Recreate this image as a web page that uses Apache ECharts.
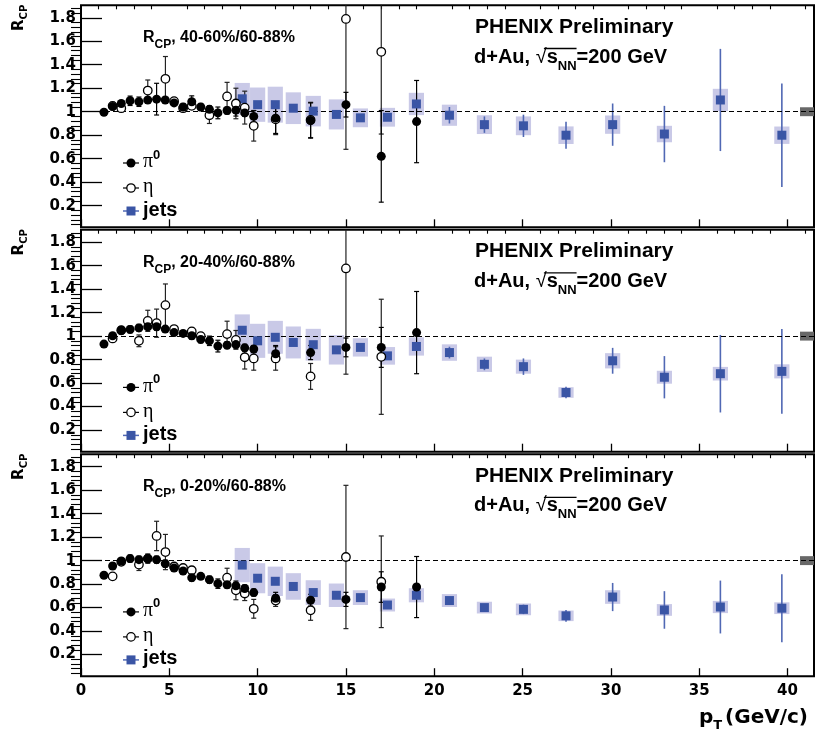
<!DOCTYPE html>
<html>
<head>
<meta charset="utf-8">
<script src="https://cdn.jsdelivr.net/npm/echarts@6/dist/echarts.min.js"></script>
<style>html,body{margin:0;padding:0;background:#fff}#c{width:817px;height:737px}</style>
</head>
<body>
<div id="c"></div>
<script>
// ---------------- data ----------------
const centralityLabels = ['40-60%/60-88%', '20-40%/60-88%', '0-20%/60-88%'];

const xTickValues = [0, 5, 10, 15, 20, 25, 30, 35, 40];
const yTickValues = [0.2, 0.4, 0.6, 0.8, 1.0, 1.2, 1.4, 1.6, 1.8];

const pi0Pt = [1.30,1.79,2.28,2.78,3.28,3.78,4.28,4.77,5.27,5.78,6.27,6.78,7.27,7.75,8.27,8.77,9.27,9.78,11.02,13.0,15.0,17.0,19.0];
const pi0R_4060 = [0.995,1.045,1.07,1.093,1.085,1.10,1.107,1.10,1.075,1.04,1.085,1.04,1.02,0.99,1.01,1.013,0.99,0.96,0.945,0.925,1.06,0.62,0.916];
const pi0E_4060 = [0.01,0.03,0.02,0.04,0.04,0.02,0.135,0.02,0.02,0.03,0.05,0.03,0.03,0.05,0.03,0.05,0.03,0.05,0.13,0.15,0.105,0.39,0.35];
const pi0R_2040 = [0.932,1.003,1.05,1.057,1.07,1.08,1.08,1.06,1.03,1.023,1.003,0.972,0.96,0.915,0.923,0.928,0.90,0.89,0.85,0.86,0.904,0.904,1.03];
const pi0E_2040 = [0.01,0.02,0.03,0.03,0.03,0.02,0.03,0.02,0.02,0.02,0.03,0.03,0.04,0.05,0.03,0.03,0.03,0.03,0.07,0.06,0.08,0.17,0.35];
const pi0R_0020 = [0.875,0.954,0.997,1.017,1.008,1.017,1.008,0.974,0.937,0.912,0.855,0.866,0.838,0.804,0.795,0.785,0.763,0.728,0.68,0.663,0.67,0.775,0.775];
const pi0E_0020 = [0.01,0.02,0.02,0.03,0.03,0.03,0.03,0.03,0.02,0.02,0.03,0.02,0.03,0.04,0.03,0.03,0.03,0.03,0.05,0.05,0.06,0.13,0.26];

const etaPt_4060 = [1.79,2.28,3.78,4.78,5.27,5.78,6.27,7.27,8.27,8.77,9.27,9.78,11.02,13.0,15.0,17.0];
const etaR_4060  = [1.05,1.03,1.18,1.28,1.09,1.03,1.05,0.97,1.13,1.07,1.035,0.88,0.935,0.93,1.79,1.51];
const etaE_4060  = [0.03,0.03,0.09,0.19,0.03,0.03,0.03,0.07,0.12,0.13,0.14,0.13,0.13,0.15,1.11,0.70];
const etaPt_2040 = [1.79,2.28,3.28,3.78,4.28,4.78,5.27,6.27,6.78,8.27,8.77,9.27,9.78,11.02,13.0,15.0,17.0];
const etaR_2040  = [0.98,1.05,0.96,1.13,1.11,1.264,1.06,1.04,1.0,1.017,0.968,0.82,0.81,0.81,0.657,1.576,0.824];
const etaE_2040  = [0.02,0.03,0.05,0.09,0.12,0.18,0.02,0.03,0.03,0.11,0.08,0.10,0.10,0.10,0.11,0.90,0.49];
const etaPt_0020 = [1.79,2.28,3.28,3.78,4.28,4.78,5.27,5.78,6.27,8.27,8.77,9.27,9.78,11.02,13.0,15.0,17.0];
const etaR_0020  = [0.866,0.99,0.966,1.017,1.21,1.073,0.95,0.937,0.918,0.855,0.747,0.72,0.59,0.66,0.577,1.031,0.82];
const etaE_0020  = [0.02,0.02,0.05,0.04,0.125,0.15,0.02,0.02,0.03,0.08,0.08,0.06,0.08,0.05,0.085,0.61,0.39];

const jetPt = [9.13,10.0,11.0,12.02,13.15,14.46,15.82,17.35,18.99,20.86,22.84,25.05,27.46,30.1,33.03,36.2,39.68];
const jetR_4060    = [1.11,1.06,1.06,1.03,1.005,0.977,0.948,0.953,1.066,0.97,0.89,0.88,0.80,0.89,0.81,1.10,0.80];
const jetStat_4060 = [0.02,0.02,0.02,0.02,0.02,0.02,0.02,0.02,0.03,0.07,0.07,0.095,0.115,0.18,0.24,0.435,0.44];
const jetSys_4060  = [0.135,0.146,0.153,0.135,0.13,0.128,0.08,0.08,0.095,0.09,0.08,0.08,0.075,0.078,0.07,0.095,0.074];
const jetR_2040    = [1.05,0.96,0.99,0.946,0.927,0.883,0.904,0.832,0.912,0.86,0.76,0.74,0.52,0.79,0.65,0.68,0.70];
const jetStat_2040 = [0.02,0.02,0.02,0.02,0.02,0.02,0.02,0.02,0.03,0.05,0.05,0.07,0.05,0.11,0.18,0.33,0.36];
const jetSys_2040  = [0.135,0.145,0.14,0.136,0.135,0.125,0.078,0.075,0.078,0.07,0.065,0.06,0.045,0.065,0.055,0.058,0.06];
const jetR_0020    = [0.962,0.85,0.824,0.78,0.728,0.705,0.685,0.622,0.705,0.66,0.60,0.585,0.53,0.69,0.58,0.605,0.595];
const jetStat_0020 = [0.02,0.02,0.02,0.02,0.02,0.02,0.02,0.02,0.02,0.03,0.03,0.04,0.05,0.12,0.16,0.225,0.29];
const jetSys_0020  = [0.146,0.128,0.125,0.113,0.105,0.1,0.063,0.055,0.06,0.055,0.05,0.05,0.045,0.058,0.05,0.052,0.05];

const normUnc = [0.038, 0.038, 0.038];

// ---------------- layout / style ----------------
const X_MIN = 0, X_MAX = 41.5, Y_MIN = 0.016, Y_MAX = 1.906;
const GRID_LEFT = 81, GRID_RIGHT = 3, PANEL_H = 222;
const PANEL_TOPS = [5.3, 229.7, 454.2];
const SYS_HALF_W = 0.43;
const SYS_COLOR = '#c9c9e7';
const JET_COLOR = '#3a55a5';
const JET_ERR_COLOR = '#5068b4';
const NORM_COLOR = '#686868';
const NORM_W_PX = 14;

const panels = [
  {pi0R: pi0R_4060, pi0E: pi0E_4060, etaPt: etaPt_4060, etaR: etaR_4060, etaE: etaE_4060, jetR: jetR_4060, jetStat: jetStat_4060, jetSys: jetSys_4060},
  {pi0R: pi0R_2040, pi0E: pi0E_2040, etaPt: etaPt_2040, etaR: etaR_2040, etaE: etaE_2040, jetR: jetR_2040, jetStat: jetStat_2040, jetSys: jetSys_2040},
  {pi0R: pi0R_0020, pi0E: pi0E_0020, etaPt: etaPt_0020, etaR: etaR_0020, etaE: etaE_0020, jetR: jetR_0020, jetStat: jetStat_0020, jetSys: jetSys_0020}
];

const xMinorValues = [];
for (let v = 1; v <= 41; v++) if (v % 5 !== 0) xMinorValues.push(v);
const yMinorValues = [];
for (let k = 1; k <= 47; k++) { if (k % 5 !== 0) yMinorValues.push(+(k * 0.04).toFixed(2)); }

// ---------------- render helpers ----------------
function sysBoxRender(params, api) {
  const x = api.value(0), y = api.value(1), s = api.value(2);
  const a = api.coord([x - SYS_HALF_W, y + s]);
  const b = api.coord([x + SYS_HALF_W, y - s]);
  return {type: 'rect', shape: {x: a[0], y: a[1], width: b[0] - a[0], height: b[1] - a[1]}, style: {fill: SYS_COLOR}};
}
function makeErrRender(capHalf, color, width) {
  return function (params, api) {
    const cs = params.coordSys;
    const x = api.value(0), y = api.value(1), e = api.value(2);
    const top = api.coord([x, y + e]);
    const bot = api.coord([x, y - e]);
    const yTop = Math.max(top[1], cs.y);
    const yBot = Math.min(bot[1], cs.y + cs.height);
    const px = top[0];
    const children = [{type: 'line', shape: {x1: px, y1: yTop, x2: px, y2: yBot}, style: {stroke: color, lineWidth: width}}];
    if (capHalf > 0) {
      if (top[1] >= cs.y) children.push({type: 'line', shape: {x1: px - capHalf, y1: top[1], x2: px + capHalf, y2: top[1]}, style: {stroke: color, lineWidth: width}});
      if (bot[1] <= cs.y + cs.height) children.push({type: 'line', shape: {x1: px - capHalf, y1: bot[1], x2: px + capHalf, y2: bot[1]}, style: {stroke: color, lineWidth: width}});
    }
    return {type: 'group', children: children};
  };
}
function normBoxRender(params, api) {
  const cs = params.coordSys;
  const c = api.value(0), u = api.value(1);
  const a = api.coord([X_MAX, c + u]);
  const b = api.coord([X_MAX, c - u]);
  return {type: 'rect', shape: {x: cs.x + cs.width - NORM_W_PX, y: a[1], width: NORM_W_PX, height: b[1] - a[1]}, style: {fill: NORM_COLOR}};
}

const mctx = document.createElement('canvas').getContext('2d');
function tw(text, font) { mctx.font = font; return mctx.measureText(text).width; }
function textRun(parts, x, y) {
  const els = [];
  let cx = x;
  parts.forEach(function (p) {
    const font = (p.w || 'bold') + ' ' + p.s + 'px ' + (p.f || '"Liberation Sans"');
    cx += (p.gap || 0);
    els.push({type: 'text', x: cx, y: y + (p.dy || 0), style: {text: p.t, font: font, fill: '#000', align: 'left', verticalAlign: 'middle'}});
    p._x = cx; p._w = tw(p.t, font);
    cx += p._w;
  });
  return {els: els, width: cx - x, parts: parts};
}

// ---------------- build option ----------------
const grids = [], xAxes = [], yAxes = [], series = [], graphics = [];
const tickFont = {fontFamily: 'DejaVu Sans', fontWeight: 'bold', fontSize: 15, color: '#000'};

panels.forEach(function (P, p) {
  grids.push({left: GRID_LEFT, right: GRID_RIGHT, top: PANEL_TOPS[p], height: PANEL_H, show: true, borderColor: '#000', borderWidth: 2, backgroundColor: 'transparent'});
  xAxes.push({type: 'value', gridIndex: p, min: X_MIN, max: X_MAX, axisLine: {show: false}, splitLine: {show: false},
    axisTick: {show: true, inside: true, length: 8, customValues: xTickValues, lineStyle: {color: '#000', width: 1.3}},
    axisLabel: {show: p === 2, customValues: xTickValues, margin: 7, ...tickFont, formatter: function (v) { return String(v); }}});
  xAxes.push({type: 'value', gridIndex: p, min: X_MIN, max: X_MAX, axisLine: {show: false}, splitLine: {show: false},
    axisTick: {show: true, inside: true, length: 4, customValues: xMinorValues, lineStyle: {color: '#000', width: 1.1}},
    axisLabel: {show: false}});
  yAxes.push({type: 'value', gridIndex: p, min: Y_MIN, max: Y_MAX, axisLine: {show: false}, splitLine: {show: false},
    axisTick: {show: true, inside: true, length: 21, customValues: yTickValues, lineStyle: {color: '#000', width: 1.3}},
    axisLabel: {show: true, customValues: yTickValues, margin: 5, ...tickFont, formatter: function (v) { return String(+v.toFixed(1)); }}});
  yAxes.push({type: 'value', gridIndex: p, min: Y_MIN, max: Y_MAX, axisLine: {show: false}, splitLine: {show: false},
    axisTick: {show: true, inside: true, length: 10, customValues: yMinorValues, lineStyle: {color: '#000', width: 1.1}},
    axisLabel: {show: false}});

  const xi = 2 * p, yi = 2 * p;
  // dashed reference line at R = 1
  series.push({type: 'scatter', xAxisIndex: xi, yAxisIndex: yi, data: [], z: 1, silent: true,
    markLine: {silent: true, symbol: ['none', 'none'], label: {show: false}, animation: false,
      lineStyle: {color: '#000', type: [5, 3], width: 1.1, opacity: 1}, data: [{yAxis: 1}]}});
  // jet systematic boxes
  series.push({type: 'custom', xAxisIndex: xi, yAxisIndex: yi, z: 2, silent: true, renderItem: sysBoxRender,
    encode: {x: 0, y: 1}, data: jetPt.map(function (x, i) { return [x, P.jetR[i], P.jetSys[i]]; })});
  // normalization uncertainty box
  series.push({type: 'custom', xAxisIndex: xi, yAxisIndex: yi, z: 3, silent: true, renderItem: normBoxRender,
    encode: {y: 0}, data: [[1, normUnc[p]]]});
  // error bars
  series.push({type: 'custom', xAxisIndex: xi, yAxisIndex: yi, z: 4, silent: true, renderItem: makeErrRender(0, JET_ERR_COLOR, 1.6),
    encode: {x: 0, y: 1}, data: jetPt.map(function (x, i) { return [x, P.jetR[i], P.jetStat[i]]; })});
  series.push({type: 'custom', xAxisIndex: xi, yAxisIndex: yi, z: 4, silent: true, renderItem: makeErrRender(2.5, '#222', 1.2),
    encode: {x: 0, y: 1}, data: P.etaPt.map(function (x, i) { return [x, P.etaR[i], P.etaE[i]]; })});
  series.push({type: 'custom', xAxisIndex: xi, yAxisIndex: yi, z: 4, silent: true, renderItem: makeErrRender(2.5, '#000', 1.2),
    encode: {x: 0, y: 1}, data: pi0Pt.map(function (x, i) { return [x, P.pi0R[i], P.pi0E[i]]; })});
  // markers
  series.push({type: 'scatter', name: 'jets', xAxisIndex: xi, yAxisIndex: yi, z: 5, symbol: 'rect', symbolSize: 9,
    itemStyle: {color: JET_COLOR, opacity: 1}, data: jetPt.map(function (x, i) { return [x, P.jetR[i]]; })});
  series.push({type: 'scatter', name: 'eta', xAxisIndex: xi, yAxisIndex: yi, z: 6, symbol: 'circle', symbolSize: 8.5,
    itemStyle: {color: '#fff', borderColor: '#000', borderWidth: 1.3, opacity: 1}, data: P.etaPt.map(function (x, i) { return [x, P.etaR[i]]; })});
  series.push({type: 'scatter', name: 'pi0', xAxisIndex: xi, yAxisIndex: yi, z: 7, symbol: 'circle', symbolSize: 9,
    itemStyle: {color: '#000', opacity: 1}, data: pi0Pt.map(function (x, i) { return [x, P.pi0R[i]]; })});

  // ---- annotations ----
  const dy = PANEL_TOPS[p] - PANEL_TOPS[0];
  // y-axis title (rotated)
  const yt = textRun([{t: 'R', s: 15, f: '"DejaVu Sans"'}, {t: 'CP', s: 10, f: '"DejaVu Sans"', dy: 5}], 0, 0);
  graphics.push({type: 'group', x: 19, y: 31 + dy, rotation: Math.PI / 2, children: yt.els});
  // R_CP label
  textRun([{t: 'R', s: 16}, {t: 'CP', s: 12, dy: 7}, {t: ', ' + centralityLabels[p], s: 16}], 143, 38 + dy).els.forEach(function (e) { graphics.push(e); });
  // PHENIX Preliminary
  textRun([{t: 'PHENIX Preliminary', s: 21}], 475, 27 + dy).els.forEach(function (e) { graphics.push(e); });
  // d+Au line with sqrt
  const sq = textRun([{t: 'd+Au, ', s: 20}, {t: '\u221A', s: 20, w: 'normal'}, {t: 's', s: 20}, {t: 'NN', s: 13, dy: 9}, {t: '=200 GeV', s: 20}], 474, 57 + dy);
  sq.els.forEach(function (e) { graphics.push(e); });
  const rad = sq.parts[1], nn = sq.parts[3];
  graphics.push({type: 'line', shape: {x1: rad._x + rad._w * 0.75, y1: 48.5 + dy, x2: nn._x + nn._w, y2: 48.5 + dy}, style: {stroke: '#000', lineWidth: 1.3}});
  // legend
  const lx0 = 123, lx1 = 139, mx = 131, tx = 143;
  const ly = [163 + dy, 188 + dy, 211 + dy];
  graphics.push({type: 'line', shape: {x1: lx0, y1: ly[0], x2: lx1, y2: ly[0]}, style: {stroke: '#000', lineWidth: 1.2}});
  graphics.push({type: 'circle', shape: {cx: mx, cy: ly[0], r: 4.5}, style: {fill: '#000'}});
  textRun([{t: '\u03C0', s: 20, w: 'normal', f: '"Liberation Serif"'}, {t: '0', s: 13, dy: -7}], tx, ly[0] - 1).els.forEach(function (e) { graphics.push(e); });
  graphics.push({type: 'line', shape: {x1: lx0, y1: ly[1], x2: lx1, y2: ly[1]}, style: {stroke: '#000', lineWidth: 1.2}});
  graphics.push({type: 'circle', shape: {cx: mx, cy: ly[1], r: 4.2}, style: {fill: '#fff', stroke: '#000', lineWidth: 1.3}});
  textRun([{t: '\u03B7', s: 20, w: 'normal', f: '"Liberation Serif"'}], tx, ly[1] - 1).els.forEach(function (e) { graphics.push(e); });
  graphics.push({type: 'line', shape: {x1: lx0, y1: ly[2], x2: lx1, y2: ly[2]}, style: {stroke: JET_ERR_COLOR, lineWidth: 1.5}});
  graphics.push({type: 'rect', shape: {x: mx - 4.5, y: ly[2] - 4.5, width: 9, height: 9}, style: {fill: JET_COLOR}});
  textRun([{t: 'jets', s: 20}], tx, ly[2] - 1).els.forEach(function (e) { graphics.push(e); });
});

// x-axis title, right aligned
const xtParts = [{t: 'p', s: 20, f: '"DejaVu Sans"'}, {t: 'T', s: 13, f: '"DejaVu Sans"', dy: 8}, {t: '(GeV/c)', s: 20, f: '"DejaVu Sans"', gap: 3}];
const xtW = textRun(JSON.parse(JSON.stringify(xtParts)), 0, 0).width;
textRun(xtParts, 808 - xtW, 718).els.forEach(function (e) { graphics.push(e); });

graphics.forEach(function (g) { g.z = 100; g.silent = true; });

const chart = echarts.init(document.getElementById('c'), null, {renderer: 'canvas'});
chart.setOption({
  animation: false,
  backgroundColor: '#fff',
  grid: grids,
  xAxis: xAxes,
  yAxis: yAxes,
  series: series,
  graphic: graphics
});
</script>
</body>
</html>
